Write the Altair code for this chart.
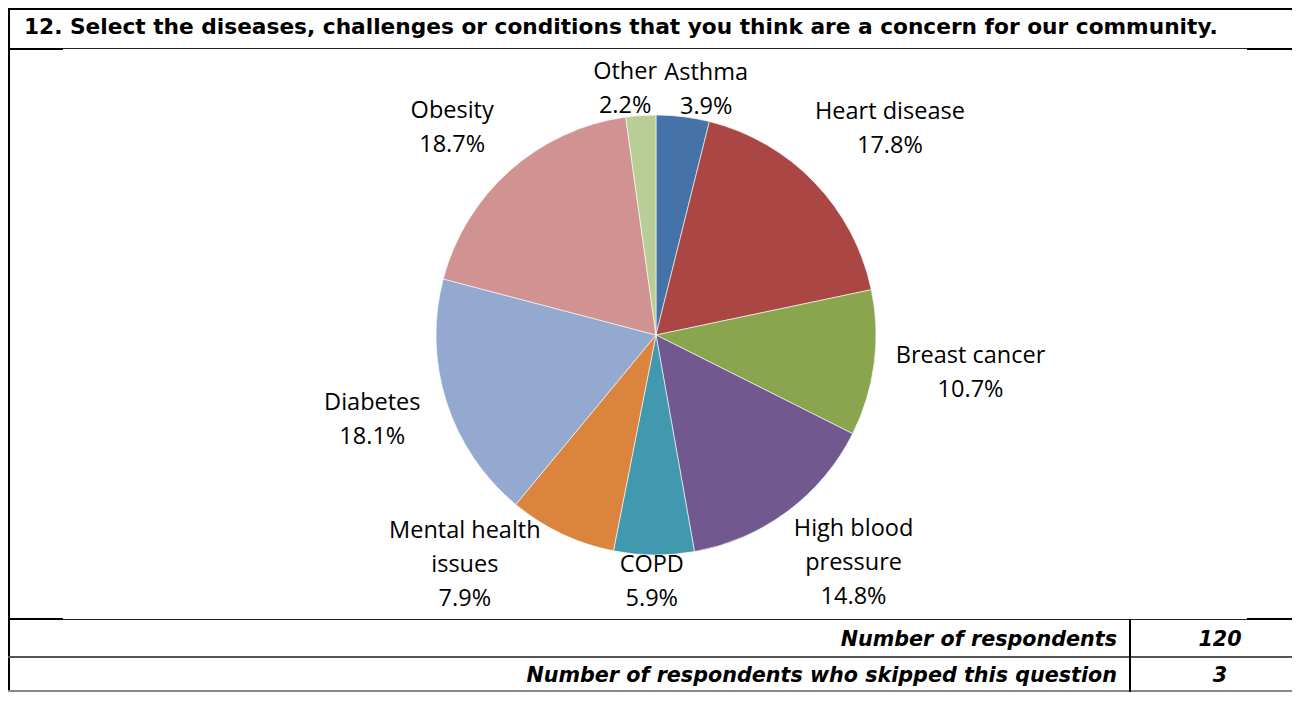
import altair as alt
import pandas as pd

# ---- data ----
categories = ["Asthma", "Heart disease", "Breast cancer", "High blood pressure", "COPD",
              "Mental health issues", "Diabetes", "Obesity", "Other"]
values = [3.9, 17.8, 10.7, 14.8, 5.9, 7.9, 18.1, 18.7, 2.2]
label_names = ["Asthma", "Heart disease", "Breast cancer", "High blood\npressure", "COPD",
               "Mental health\nissues", "Diabetes", "Obesity", "Other"]
colors = ["#4572A7", "#AA4643", "#89A54E", "#71588F", "#4198AF",
          "#DB843D", "#93A9CF", "#D19392", "#B9CD96"]
title_text = "12. Select the diseases, challenges or conditions that you think are a concern for our community."
row_labels = ["Number of respondents", "Number of respondents who skipped this question"]
row_values = ["120", "3"]

df = pd.DataFrame({"category": categories, "value": values, "name": label_names,
                   "order": list(range(len(categories)))})

W, H = 1284, 684
CX, CY, R = 648, 327, 220
LH = 34
RP = 228          # keep-out radius for label boxes
CW = 11.3         # approx. character width of the label font
ONE = alt.Data(values=[{"k": 1}])


def hrule(y, x0, x1, color="black", sw=2):
    return alt.Chart(ONE).mark_rule(color=color, strokeWidth=sw).encode(
        x=alt.value(x0), x2=alt.value(x1), y=alt.value(y))


def vrule(x, y0, y1, color="black", sw=2):
    return alt.Chart(ONE).mark_rule(color=color, strokeWidth=sw).encode(
        x=alt.value(x), y=alt.value(y0), y2=alt.value(y1))


def label(text, x, y, align, font, size, weight="normal", style="normal"):
    return alt.Chart(ONE).mark_text(align=align, baseline="alphabetic", font=font,
                                    fontSize=size, fontWeight=weight, fontStyle=style,
                                    color="black").encode(
        x=alt.value(x), y=alt.value(y), text=alt.value(text))


pie = alt.Chart(df).mark_arc(outerRadius=R, stroke="white", strokeWidth=0.6).encode(
    theta=alt.Theta("value:Q", stack=True),
    order=alt.Order("order:Q"),
    color=alt.Color("category:N", scale=alt.Scale(domain=categories, range=colors), legend=None),
    x=alt.value(CX), y=alt.value(CY),
)

NL = "'\\n'"
pie_labels = alt.Chart(df).transform_window(
    cum="sum(value)", sort=[alt.SortField("order")], frame=[None, 0]
).transform_joinaggregate(
    total="sum(value)"
).transform_calculate(
    mid="(datum.cum - datum.value/2) / datum.total * 2 * PI",
    s="sin(datum.mid)",
    r="247 + (datum.s > 0 ? 50 : 30) * clamp((abs(datum.s) - 0.15) * 4, 0, 1)",
    nlines=f"length(split(datum.name, {NL})) + 1",
    maxc=f"max(length(split(datum.name, {NL})[0]), "
         f"length(split(datum.name, {NL})[length(split(datum.name, {NL})) - 1]), 5)",
    rx0="datum.r * datum.s + 20 * clamp(datum.s * 10, -1, 1)",
    ry0="-datum.r * cos(datum.mid) - (datum.nlines > 2 ? 10 : 0)",
    hw=f"datum.maxc * {CW} / 2",
    hh=f"datum.nlines * {LH} / 2 - 6",
    px="max(0, abs(datum.rx0) - datum.hw)",
    py="max(0, abs(datum.ry0) - datum.hh)",
    pushed=f"abs(datum.s) > 0.3 && datum.py < {RP} && "
           f"datum.px*datum.px + datum.py*datum.py < {RP*RP}",
    ax=f"datum.pushed ? sqrt({RP*RP} - datum.py*datum.py) + datum.hw : abs(datum.rx0)",
    rr="sqrt(datum.rx0*datum.rx0 + datum.ry0*datum.ry0)",
    ay="datum.pushed ? abs(datum.ry0) - 0.25 * (abs(datum.ry0) - "
       "sqrt(max(0, datum.rr*datum.rr - datum.ax*datum.ax))) : abs(datum.ry0)",
    lx=f"{CX} + (datum.rx0 < 0 ? -1 : 1) * datum.ax",
    ly=f"{CY} + (datum.ry0 < 0 ? -1 : 1) * datum.ay - (datum.nlines - 1) * {LH} / 2",
    label=f"datum.name + {NL} + format(datum.value, '.1f') + '%'",
).mark_text(font="Open Sans", fontSize=23.5, lineBreak="\n", lineHeight=LH,
            align="center", baseline="middle", color="black").encode(
    text="label:N",
    x=alt.X("lx:Q", scale=None),
    y=alt.Y("ly:Q", scale=None),
)

frame = [
    hrule(1, 0, W),
    vrule(1, 0, H),
    hrule(40.5, 55, 1239, color="#222", sw=1),
    hrule(41, 0, 55), hrule(41, 1239, W),
    hrule(611.5, 55, 1239, color="#222", sw=1),
    hrule(611, 0, 55), hrule(611, 1239, W),
    hrule(649, 0, W, color="#555"),
    hrule(683, 0, W, color="#888"),
    vrule(1122, 611, H),
]

texts = [
    label(title_text, 16, 26, "left", "DejaVu Sans", 21.7, weight="bold"),
    label(row_labels[0], 1109, 638, "right", "DejaVu Sans", 20.7, weight="bold", style="italic"),
    label(row_values[0], 1212, 638, "center", "DejaVu Sans", 20.7, weight="bold", style="italic"),
    label(row_labels[1], 1109, 674, "right", "DejaVu Sans", 20.7, weight="bold", style="italic"),
    label(row_values[1], 1212, 674, "center", "DejaVu Sans", 20.7, weight="bold", style="italic"),
]

chart = alt.layer(pie, pie_labels, *frame, *texts).properties(
    width=W, height=H, padding=0, autosize="none"
).configure_view(stroke=None)

chart.save("out.html", embed_options={"renderer": "svg", "actions": False})
